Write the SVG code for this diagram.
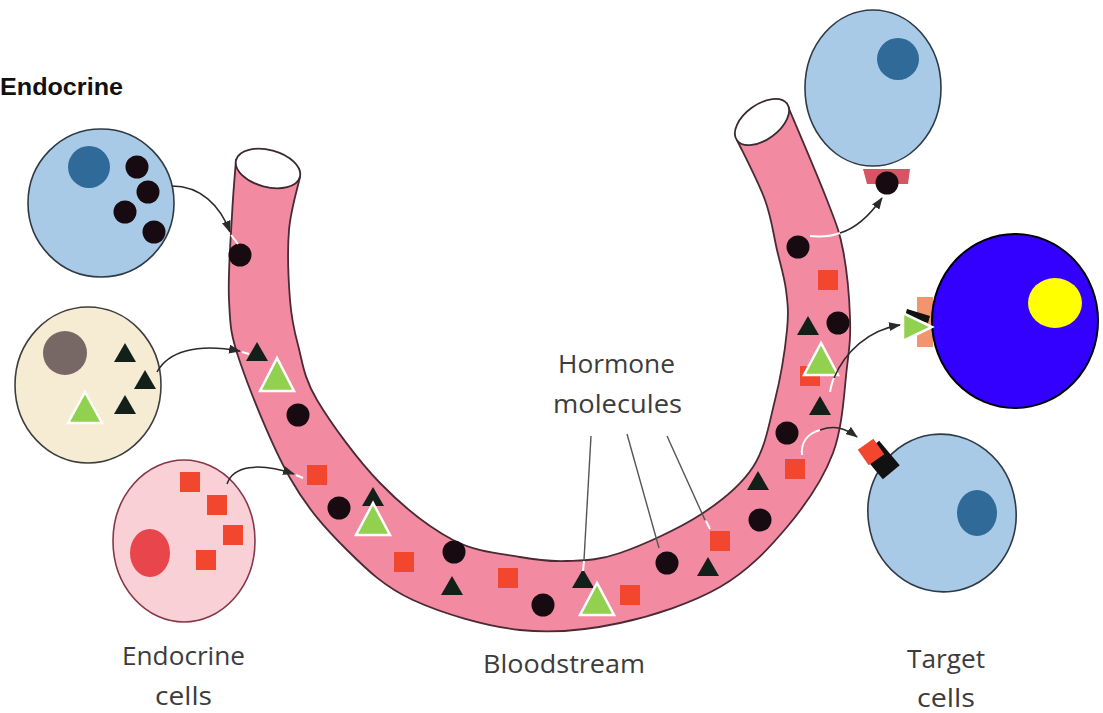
<svg xmlns="http://www.w3.org/2000/svg" xmlns:xlink="http://www.w3.org/1999/xlink" width="1103" height="713" viewBox="0 0 1103 713">
  <defs>
    <style>
      .cell-blue { fill: #a8cae6; stroke: #2e3a46; stroke-width: 1.6; }
      .nuc-blue { fill: #2f6a98; }
      .mol-c { fill: #170a10; }
      .mol-t { fill: #13201a; }
      .mol-s { fill: #f2462f; }
      .green { fill: #92d050; stroke: #ffffff; stroke-width: 2.5; stroke-linejoin: miter; }
      .wall { fill: #f28ba1; stroke: #4a2a33; stroke-width: 1.8; }
      .mouth { fill: #ffffff; stroke: #3a2a30; stroke-width: 1.8; }
      .conn { fill: none; stroke: #2a2a2a; stroke-width: 1.5; }
      .conn-w { fill: none; stroke: #ffffff; stroke-width: 2; }
      .leader { fill: none; stroke: #555555; stroke-width: 1.4; }
      .label { font-family: "Open Sans", "Liberation Sans", sans-serif; font-size: 25px; fill: #3c3c3c; }
      .title { font-family: "Liberation Sans", Arial, sans-serif; font-size: 24px; font-weight: bold; fill: #111111; }
    </style>
    <path id="tri" d="M0,-10 L11,9 L-11,9 Z"/>
    <rect id="sq" x="-10" y="-10" width="20" height="20"/>
    <marker id="head" viewBox="0 0 12 9" refX="11" refY="4.5" markerWidth="12" markerHeight="9" markerUnits="userSpaceOnUse" orient="auto">
      <path d="M0,0 L12,4.5 L0,9 Z" fill="#2a2a2a"/>
    </marker>
  </defs>

  <rect width="1103" height="713" fill="#ffffff"/>

  <!-- Bloodstream: U-shaped vessel with open ends -->
  <g id="bloodstream">
    <path class="wall" d="M236,160 C235.3,169.2 233.2,191.7 232,215 C230.8,238.3 227.7,275.5 229,300 C230.3,324.5 229.8,332.3 240,362 C250.2,391.7 272.2,446.7 290,478 C307.8,509.3 326.5,529.7 347,550 C367.5,570.3 384.2,586.7 413,600 C441.8,613.3 485.5,626.2 520,630 C554.5,633.8 586.7,630.2 620,623 C653.3,615.8 692.2,603 720,587 C747.8,571 768.2,549.3 787,527 C805.8,504.7 823,479.7 833,453 C843,426.3 844.2,389.7 847,367 C849.8,344.3 850.7,336.5 850,317 C849.3,297.5 846.8,269.5 843,250 C839.2,230.5 836.3,224.3 827,200 C817.7,175.7 793.7,120 787,104 L737,140 C741.7,150 758.3,181.7 765,200 C771.7,218.3 773.5,235 777,250 C780.5,265 784.3,276.7 786,290 C787.7,303.3 788.8,311.7 787,330 C785.2,348.3 780.7,377.2 775,400 C769.3,422.8 765.5,447.8 753,467 C740.5,486.2 722.2,500.7 700,515 C677.8,529.3 642.2,545.3 620,553 C597.8,560.7 583.7,560.3 567,561 C550.3,561.7 539,560.5 520,557 C501,553.5 476.3,552.3 453,540 C429.7,527.7 402.7,506.3 380,483 C357.3,459.7 330.7,423 317,400 C303.3,377 302.5,361.7 298,345 C293.5,328.3 291.5,319.2 290,300 C288.5,280.8 287.3,250.5 289,230 C290.7,209.5 298.2,185.8 300,177 Z"/>
    <ellipse class="mouth" cx="268" cy="168.5" rx="33" ry="18.5" transform="rotate(15 268 168.5)"/>
    <ellipse class="mouth" cx="762" cy="122" rx="31" ry="17.5" transform="rotate(-36 762 122)"/>

    <!-- hormone molecules carried in the blood -->
    <g id="blood-molecules">
      <circle class="mol-c" cx="240" cy="255" r="11.5"/>
      <circle class="mol-c" cx="298" cy="415" r="11.5"/>
      <circle class="mol-c" cx="339" cy="508" r="11.5"/>
      <circle class="mol-c" cx="454" cy="552" r="11.5"/>
      <circle class="mol-c" cx="543" cy="605" r="11.5"/>
      <circle class="mol-c" cx="667" cy="563" r="11.5"/>
      <circle class="mol-c" cx="760" cy="520" r="11.5"/>
      <circle class="mol-c" cx="787" cy="433" r="11.5"/>
      <circle class="mol-c" cx="838" cy="323" r="11.5"/>
      <circle class="mol-c" cx="798" cy="247" r="11.5"/>

      <use href="#tri" class="mol-t" x="257" y="352"/>
      <use href="#tri" class="mol-t" x="373" y="497"/>
      <use href="#tri" class="mol-t" x="452" y="586"/>
      <use href="#tri" class="mol-t" x="583" y="579"/>
      <use href="#tri" class="mol-t" x="708" y="567"/>
      <use href="#tri" class="mol-t" x="758" y="481"/>
      <use href="#tri" class="mol-t" x="820" y="406"/>
      <use href="#tri" class="mol-t" x="808" y="326"/>

      <use href="#sq" class="mol-s" x="317" y="475"/>
      <use href="#sq" class="mol-s" x="404" y="562"/>
      <use href="#sq" class="mol-s" x="508" y="578"/>
      <use href="#sq" class="mol-s" x="630" y="595"/>
      <use href="#sq" class="mol-s" x="720" y="541"/>
      <use href="#sq" class="mol-s" x="828" y="280"/>
      <use href="#sq" class="mol-s" x="810" y="376"/>
      <use href="#sq" class="mol-s" x="795" y="469"/>

      <polygon class="green" points="277,358 260,391 294,391"/>
      <polygon class="green" points="373,503 356,535 390,535"/>
      <polygon class="green" points="597,583 580,615 614,615"/>
      <polygon class="green" points="821,343 804,375 838,375"/>
    </g>
  </g>

  <!-- Endocrine (secreting) cells -->
  <g id="endocrine-cell-1">
    <ellipse class="cell-blue" cx="101" cy="203" rx="73" ry="74"/>
    <circle class="nuc-blue" cx="89" cy="167" r="21"/>
    <circle class="mol-c" cx="137" cy="167" r="11.5"/>
    <circle class="mol-c" cx="148" cy="192" r="11.5"/>
    <circle class="mol-c" cx="125" cy="212" r="11.5"/>
    <circle class="mol-c" cx="154" cy="232" r="11.5"/>
  </g>

  <g id="endocrine-cell-2">
    <ellipse cx="88" cy="385" rx="73" ry="78" fill="#f6ecd3" stroke="#3e3e3e" stroke-width="1.6"/>
    <circle cx="65" cy="353" r="22" fill="#776866"/>
    <use href="#tri" class="mol-t" x="125" y="353"/>
    <use href="#tri" class="mol-t" x="145" y="380"/>
    <use href="#tri" class="mol-t" x="125" y="405"/>
    <polygon class="green" points="85,392 68,423 102,423"/>
  </g>

  <g id="endocrine-cell-3">
    <ellipse cx="184" cy="541" rx="71" ry="81" fill="#f9d0d6" stroke="#86384a" stroke-width="1.6"/>
    <ellipse cx="150" cy="553" rx="20" ry="24" fill="#e8464c"/>
    <use href="#sq" class="mol-s" x="190" y="482"/>
    <use href="#sq" class="mol-s" x="217" y="505"/>
    <use href="#sq" class="mol-s" x="233" y="535"/>
    <use href="#sq" class="mol-s" x="206" y="560"/>
  </g>

  <!-- Target cells with their receptors -->
  <g id="target-cell-1">
    <ellipse class="cell-blue" cx="873" cy="88" rx="68" ry="78"/>
    <circle class="nuc-blue" cx="898" cy="59" r="21"/>
    <path d="M863,169 L910,169 L908,184 L867,184 Z" fill="#d65564"/>
    <circle class="mol-c" cx="887" cy="183" r="11.5"/>
  </g>

  <g id="target-cell-2">
    <rect x="917" y="297" width="16" height="50" fill="#f2956e"/>
    <polygon points="907,309 930,316 928,323 905,316" fill="#111111"/>
    <ellipse cx="1015" cy="321" rx="83" ry="87" fill="#3300ff" stroke="#000000" stroke-width="2"/>
    <ellipse cx="1055" cy="303" rx="27" ry="25" fill="#ffff00"/>
    <polygon class="green" points="903,313 903,341 932,327"/>
  </g>

  <g id="target-cell-3">
    <ellipse class="cell-blue" cx="942" cy="513" rx="74" ry="79" transform="rotate(-8 942 513)"/>
    <ellipse class="nuc-blue" cx="977" cy="513" rx="20" ry="23"/>
    <rect x="-11" y="-16" width="22" height="32" fill="#111111" transform="translate(881,460) rotate(-40)"/>
    <rect x="-9.5" y="-9.5" width="19" height="19" fill="#f2462f" transform="translate(871,452) rotate(-35)"/>
  </g>

  <!-- Connectors: secretion / delivery arrows and label leaders -->
  <g id="connectors">
    <path class="conn" marker-end="url(#head)" d="M172,186 C200,186 220,205 230,232"/>
    <path class="conn-w" d="M231,235 L238,244"/>
    <path class="conn" marker-end="url(#head)" d="M157,372 C168,352 195,343 240,351"/>
    <path class="conn-w" d="M242,352 L249,354"/>
    <path class="conn" marker-end="url(#head)" d="M227,484 C233,466 258,462 294,474"/>
    <path class="conn-w" d="M296,475 L303,478"/>

    <path class="conn-w" d="M810,236 C820,237 832,236 840,233"/>
    <path class="conn" marker-end="url(#head)" d="M840,233 C857,228 870,215 882,198"/>
    <path class="conn-w" d="M830,392 C831,386 832,382 834,378"/>
    <path class="conn" marker-end="url(#head)" d="M834,378 C845,352 868,330 900,325"/>
    <path class="conn-w" d="M802,455 C801,444 806,434 820,430"/>
    <path class="conn" marker-end="url(#head)" d="M820,430 C835,425 845,428 857,437"/>

    <path class="leader" d="M591,436 L584,560"/>
    <path class="conn-w" d="M584,561 L583,571"/>
    <path class="leader" d="M627,434 L659,548"/>
    <path class="leader" d="M667,436 L705,520"/>
    <path class="conn-w" d="M706,521 L710,529"/>
  </g>

  <!-- Labels -->
  <g id="labels">
    <text class="title" x="0" y="95" textLength="123" lengthAdjust="spacingAndGlyphs">Endocrine</text>
    <text class="label" x="558" y="373" textLength="117" lengthAdjust="spacingAndGlyphs">Hormone</text>
    <text class="label" x="553" y="413" textLength="129" lengthAdjust="spacingAndGlyphs">molecules</text>
    <text class="label" x="122" y="665" textLength="123" lengthAdjust="spacingAndGlyphs">Endocrine</text>
    <text class="label" x="155" y="705" textLength="57" lengthAdjust="spacingAndGlyphs">cells</text>
    <text class="label" x="483" y="673" textLength="162" lengthAdjust="spacingAndGlyphs">Bloodstream</text>
    <text class="label" x="907" y="668" textLength="78" lengthAdjust="spacingAndGlyphs">Target</text>
    <text class="label" x="917" y="707" textLength="58" lengthAdjust="spacingAndGlyphs">cells</text>
  </g>
</svg>
